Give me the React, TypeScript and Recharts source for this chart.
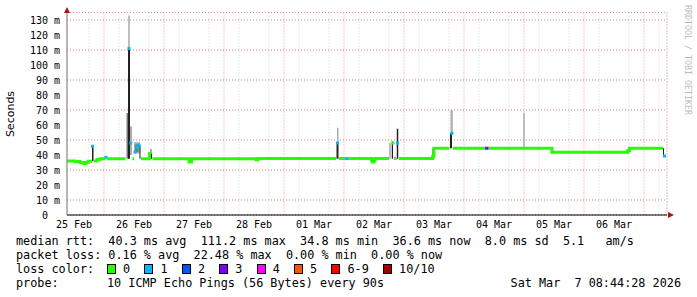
import React from 'react';
import { ComposedChart, Line, Area, Scatter, XAxis, YAxis, CartesianGrid } from 'recharts';

// time is in hours since 25 Feb 00:00 (10 days shown, ends Sat Mar 7 08:44)
const timeDomain: [number, number] = [9.2, 249.2];
const dayLabelHours = [12, 36, 60, 84, 108, 132, 156, 180, 204, 228];
const dayLabels = ['25 Feb', '26 Feb', '27 Feb', '28 Feb', '01 Mar', '02 Mar', '03 Mar', '04 Mar', '05 Mar', '06 Mar'];
const valueTicks = [0, 10, 20, 30, 40, 50, 60, 70, 80, 90, 100, 110, 120, 130];

// median rtt (ms), step starts; null = step not drawn in green (loss)
const medianStart = [
  9.2, 12.4, 14.4, 16.0, 16.8, 17.6, 19.2, 20.0, 21.2, 22.4,
  24.6, 25.2, 32.6, 35.4, 36.0, 38.8, 42.2, 42.8, 43.4, 58.0,
  59.0, 84.8, 85.6, 116.8, 118.0, 120.8, 121.4, 131.0, 131.4, 132.0,
  132.4, 138.0, 140.0, 141.0, 142.0, 155.4, 156.0, 162.2, 163.6, 176.8,
  177.4, 203.2, 233.6, 234.2, 247.6,
];
const medianValue: (number | null)[] = [
  36.0, 35.6, 35.0, 34.4, 35.0, 35.9, null, 36.0, 37.0, 37.5,
  null, 37.5, null, 37.5, null, 37.5, 41.0, null, 37.5, 35.3,
  37.5, 36.8, 37.6, null, 37.6, null, 37.6, 36.5, 35.3, 36.3,
  37.6, null, 37.6, null, 37.6, 38.8, 44.5, null, 44.5, null,
  44.5, 41.8, 43.0, 44.5, null,
];

// smoke: [start h, end h, low ms, high ms]
const smokeLight: [number, number, number, number][] = [
  [34.4, 35.2, 40, 59],
  [36.0, 38.4, 41, 48.5],
  [42.4, 43.2, 41, 44],
  [117.2, 117.8, 48, 58.2],
  [138.1, 138.7, 37.5, 48],
  [162.6, 163.5, 54.5, 70],
  [191.7, 192.3, 44.5, 67.8],
];
const smokeMid: [number, number, number, number][] = [
  [33.0, 33.6, 37.5, 68],
  [33.8, 34.2, 110, 133],
  [36.4, 37.8, 42, 47],
];
const smokeDark: [number, number, number, number][] = [
  [19.2, 19.8, 36, 46],
  [33.6, 34.4, 37.5, 111],
  [38.2, 38.6, 37.5, 46.5],
  [42.8, 43.2, 37.5, 41],
  [58.0, 58.4, 35.3, 37.5],
  [117.0, 117.8, 37.5, 48],
  [139.1, 139.6, 37.5, 49],
  [141.1, 141.7, 37.5, 57.5],
  [155.4, 156.0, 38.8, 44.5],
  [162.4, 163.2, 44.5, 54.5],
  [203.2, 203.6, 41.8, 44.5],
  [247.6, 248.0, 39.5, 44.5],
];

// median points with packet loss (index into lossColors)
const markHour = [19.4, 24.8, 34.0, 34.7, 36.4, 37.2, 38.0, 117.4, 121.1, 139.6, 141.4, 163.2, 177.1, 248.2];
const markValue = [45.8, 38.5, 111, 48, 42, 45, 46.5, 48, 37.6, 48, 48, 54.5, 44.5, 39.3];
const markLoss = [1, 1, 1, 1, 1, 1, 1, 1, 1, 0, 1, 1, 3, 1];

const lossColors = ['#26ff00', '#00b8ff', '#0059ff', '#7e00ff', '#ff00ff', '#ff5500', '#ff0000', '#a10000'];
const lossLabels = ['0', '1', '2', '3', '4', '5', '6-9', '10/10'];

const rttLine = 'median rtt:  40.3 ms avg  111.2 ms max  34.8 ms min  36.6 ms now  8.0 ms sd  5.1   am/s';
const lossLine = 'packet loss: 0.16 % avg  22.48 % max  0.00 % min  0.00 % now';
const probeText = '10 ICMP Echo Pings (56 Bytes) every 90s';
const stampText = 'Sat Mar  7 08:44:28 2026';

const minorX: number[] = [];
for (let h = 12; h < timeDomain[1]; h += 6) minorX.push(h);
const majorX: number[] = [];
for (let h = 24; h < timeDomain[1]; h += 24) majorX.push(h);
const minorY: number[] = [];
for (let v = 5; v <= 130; v += 5) minorY.push(v);
const majorY = valueTicks.filter(v => v > 0);

const medianData = medianStart.flatMap((h, i) => {
  const v = medianValue[i];
  const next = i + 1 < medianStart.length ? medianStart[i + 1] : timeDomain[1];
  if (v === null) return [{ h, v: null }];
  return [{ h, v }, { h: next, v }];
});

const buildSmoke = (bars: [number, number, number, number][]) =>
  bars.flatMap(([a, b, lo, hi]) => [
    { h: a, r: [lo, hi] },
    { h: b, r: [lo, hi] },
    { h: b, r: null },
  ]);

const markData = markHour.map((h, i) => ({ h, v: markValue[i], loss: markLoss[i] }));

const mono = "'DejaVu Sans Mono', monospace";
const CW = 7.1;

const LossMark = (props: any) => {
  const { cx, cy, payload } = props;
  return <rect x={cx - 1.5} y={cy - 1.5} width={3} height={3} fill={lossColors[payload.loss]} />;
};

const legendText: React.CSSProperties = {
  position: 'absolute',
  fontFamily: mono,
  fontSize: 11.8,
  lineHeight: '14px',
  whiteSpace: 'pre',
  color: '#000',
};

const App: React.FC = () => {
  let boxX = 107;
  const boxes = lossLabels.map((label, i) => {
    const x = boxX;
    boxX += 9 + CW + label.length * CW + 2 * CW;
    return { x, label, color: lossColors[i] };
  });

  return (
    <div style={{ position: 'relative', width: 697, height: 297, background: '#fff', overflow: 'hidden' }}>
      <style>{'body{margin:0}'}</style>
      <ComposedChart width={697} height={297} margin={{ top: 12.5, right: 30, bottom: 62, left: 0 }}>
        <XAxis
          xAxisId="t"
          type="number"
          dataKey="h"
          domain={timeDomain}
          ticks={dayLabelHours}
          interval={0}
          allowDataOverflow
          height={20}
          tickLine={false}
          tickSize={6}
          tickMargin={0}
          axisLine={{ stroke: '#000', strokeWidth: 1 }}
          tick={{ fontSize: 10, fontFamily: mono, fill: '#000' }}
          tickFormatter={(h: number) => dayLabels[dayLabelHours.indexOf(h)] ?? ''}
        />
        <YAxis
          yAxisId="v"
          type="number"
          domain={[0, 135]}
          ticks={valueTicks}
          interval={0}
          allowDataOverflow
          width={67}
          tickLine={false}
          tickSize={7}
          tickMargin={0}
          axisLine={{ stroke: '#808080', strokeWidth: 1 }}
          tick={{ fontSize: 10, fontFamily: mono, fill: '#000' }}
          tickFormatter={(v: number) => (v === 0 ? '0\u00a0\u00a0' : `${v} m`)}
        />
        <XAxis xAxisId="minor" type="number" dataKey="h" domain={timeDomain} ticks={minorX} hide height={0} allowDataOverflow />
        <XAxis xAxisId="major" type="number" dataKey="h" domain={timeDomain} ticks={majorX} hide height={0} allowDataOverflow />
        <YAxis yAxisId="minorY" type="number" domain={[0, 135]} ticks={minorY} hide width={0} allowDataOverflow />
        <YAxis yAxisId="majorY" type="number" domain={[0, 135]} ticks={majorY} hide width={0} allowDataOverflow />
        <CartesianGrid xAxisId="minor" yAxisId="minorY" stroke="#cfcfcf" strokeDasharray="1 2" />
        <CartesianGrid xAxisId="major" yAxisId="majorY" stroke="#ee9090" strokeDasharray="1 2" />
        <Area
          xAxisId="t"
          yAxisId="v"
          data={buildSmoke(smokeLight)}
          dataKey="r"
          type="linear"
          stroke="none"
          fill="#adadad"
          fillOpacity={1}
          connectNulls={false}
          dot={false}
          activeDot={false}
          isAnimationActive={false}
        />
        <Area
          xAxisId="t"
          yAxisId="v"
          data={buildSmoke(smokeMid)}
          dataKey="r"
          type="linear"
          stroke="none"
          fill="#7a7a7a"
          fillOpacity={1}
          connectNulls={false}
          dot={false}
          activeDot={false}
          isAnimationActive={false}
        />
        <Area
          xAxisId="t"
          yAxisId="v"
          data={buildSmoke(smokeDark)}
          dataKey="r"
          type="linear"
          stroke="none"
          fill="#222"
          fillOpacity={1}
          connectNulls={false}
          dot={false}
          activeDot={false}
          isAnimationActive={false}
        />
        <Line
          xAxisId="t"
          yAxisId="v"
          data={medianData}
          dataKey="v"
          type="linear"
          stroke="#26ff00"
          strokeWidth={3}
          dot={false}
          activeDot={false}
          connectNulls={false}
          isAnimationActive={false}
        />
        <Scatter
          xAxisId="t"
          yAxisId="v"
          data={markData}
          dataKey="v"
          shape={LossMark}
          isAnimationActive={false}
        />
      </ComposedChart>

      <svg width={697} height={297} style={{ position: 'absolute', left: 0, top: 0, pointerEvents: 'none' }}>
        <polygon points="64,13 70,13 67,7" fill="#a01818" />
        <polygon points="668,212 674,215 668,218" fill="#a01818" />
        <text
          x={10}
          y={114}
          transform="rotate(-90 10 114)"
          textAnchor="middle"
          dominantBaseline="central"
          fontFamily="'DejaVu Sans', sans-serif"
          fontSize={11}
          fill="#000"
        >
          Seconds
        </text>
        <text
          x={687.5}
          y={60}
          transform="rotate(90 687.5 60)"
          textAnchor="middle"
          dominantBaseline="central"
          fontFamily={mono}
          fontSize={8.3}
          fill="#bdbdbd"
        >
          RRDTOOL / TOBI OETIKER
        </text>
      </svg>

      <div style={{ ...legendText, left: 16, top: 234 }}>{rttLine}</div>
      <div style={{ ...legendText, left: 16, top: 248 }}>{lossLine}</div>
      <div style={{ ...legendText, left: 16, top: 261.5 }}>loss color:</div>
      {boxes.map(b => (
        <React.Fragment key={b.label}>
          <div style={{ position: 'absolute', left: b.x, top: 263.5, width: 7, height: 8, background: b.color, border: '1px solid #000' }} />
          <div style={{ ...legendText, left: b.x + 9 + CW, top: 261.5 }}>{b.label}</div>
        </React.Fragment>
      ))}
      <div style={{ ...legendText, left: 16, top: 276 }}>probe:</div>
      <div style={{ ...legendText, left: 107, top: 276 }}>{probeText}</div>
      <div style={{ ...legendText, right: 16, top: 276, textAlign: 'right' }}>{stampText}</div>
    </div>
  );
};

export default App;
